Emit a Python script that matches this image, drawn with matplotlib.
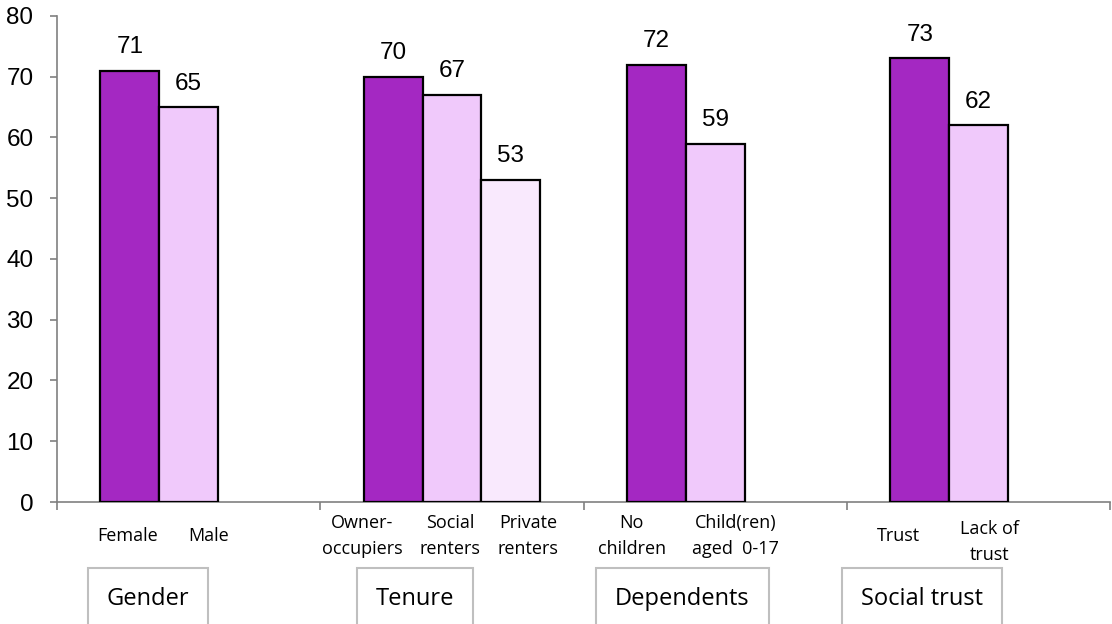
# Grouped bar chart: share (%) by gender, tenure, dependents and social trust

import numpy as np
import matplotlib.pyplot as plt

groups = ['Gender', 'Tenure', 'Dependents', 'Social trust']

# three bar slots per group; groups with only two bars leave the last slot empty
series1 = [71, 70, 72, 73]
series2 = [65, 67, 59, 62]
series3 = [None, 53, None, None]

labels1 = ['Female', 'Owner-\noccupiers', 'No\nchildren', 'Trust']
labels2 = ['Male', 'Social\nrenters', 'Child(ren)\naged  0-17', 'Lack of\ntrust']
labels3 = [None, 'Private\nrenters', None, None]

# label text boxes are spread out a little from the bar centres
labels1_x = [-0.231, 0.659, 1.682, 2.697]
labels2_x = [0.076, 0.992, 2.076, 3.042]
labels3_x = [None, 1.288, None, None]

# where the group name boxes sit along the x axis
group_box_x = [-0.155, 0.86, 1.875, 2.784]

colors = ['#A428C2', '#F0C9FB', '#F9E9FD']

fig = plt.figure(figsize=(11.12, 6.24), dpi=100)
ax = fig.add_axes([0.0513, 0.1955, 0.9472, 0.779])

x = np.arange(len(groups))
w = 0.2235
offsets = [-w, 0, w]

for vals, labs, lxs, off, col in zip([series1, series2, series3],
                                     [labels1, labels2, labels3],
                                     [labels1_x, labels2_x, labels3_x],
                                     offsets, colors):
    for xi, v, lab, lx in zip(x, vals, labs, lxs):
        if v is None:
            continue
        ax.bar(xi + off, v, width=w, color=col, edgecolor='black', linewidth=1.6, zorder=3)
        ax.annotate(str(v), (xi + off, v), xytext=(0, 9), textcoords='offset points',
                    ha='center', va='bottom', fontsize=17.5, family='Liberation Sans')
        dy = -29 if lab == 'Lack of\ntrust' else -24.5
        ax.annotate(lab, (lx, 0), xycoords=('data', 'axes fraction'),
                    xytext=(0, dy), textcoords='offset points', ha='center', va='center',
                    fontsize=13, family='Open Sans', linespacing=1.55)

for bx, g in zip(group_box_x, groups):
    ax.annotate(g, (bx, 0), xycoords=('data', 'axes fraction'),
                xytext=(0, -70), textcoords='offset points', ha='center', va='center',
                fontsize=17, family='Open Sans',
                bbox=dict(boxstyle='square,pad=0.8', facecolor='white',
                          edgecolor='#BFBFBF', linewidth=1.5))

ax.set_xlim(-0.5, 3.5)
ax.set_ylim(0, 80)
ax.set_yticks(range(0, 81, 10))
ax.set_xticks([-0.5, 0.5, 1.5, 2.5, 3.5])
ax.set_xticklabels([])
ax.tick_params(axis='y', labelsize=17.5, length=5, width=1.2, color='#808080', pad=12)
ax.tick_params(axis='x', length=6, width=1.2, color='#808080')
for t in ax.get_yticklabels():
    t.set_family('Liberation Sans')

for s in ['top', 'right']:
    ax.spines[s].set_visible(False)
for s in ['left', 'bottom']:
    ax.spines[s].set_color('#808080')
    ax.spines[s].set_linewidth(1.2)

fig.savefig('out.png', dpi=100)
